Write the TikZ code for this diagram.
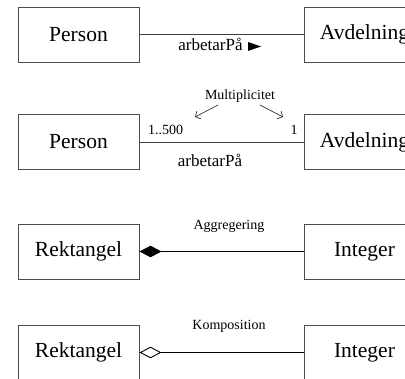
\documentclass[tikz,border=0pt]{standalone}
\usepackage{fontspec}
\setmainfont{Liberation Serif}
\usetikzlibrary{arrows.meta}
\begin{document}
\begin{tikzpicture}[x=1pt,y=-1pt,
  cls/.style={draw=black!70, line width=0.9pt, minimum width=121pt,
    minimum height=55pt, inner sep=0pt, font=\fontsize{21.5}{24}\selectfont},
  assoc/.style={draw=black!75, line width=0.9pt},
  lbl/.style={inner sep=0pt, font=\fontsize{17}{19}\selectfont},
  small/.style={inner sep=0pt, font=\fontsize{14}{16}\selectfont},
  pointer/.style={draw=black!80, line width=0.7pt,
    -{Straight Barb[length=4pt,width=9pt]}}]
\clip (0,0) rectangle (405,379);

% association with reading direction
\node[cls] (p1) at (78.5,34.5) {Person};
\node[cls] (a1) at (364.5,34.5) {Avdelning};
\draw[assoc] (p1.east) -- (a1.west);
\node[lbl] (l1) at (210.5,44.5) {arbetarPå};
\coordinate (t1) at (248,42);
\fill (t1) -- ++(13,4.5) -- ++(-13,4.5) -- cycle;

% association with multiplicities
\node[cls] (p2) at (78.5,142) {Person};
\node[cls] (a2) at (364.5,142) {Avdelning};
\draw[assoc] (p2.east) -- (a2.west);
\node[lbl] (l2) at (210,160) {arbetarPå};
\node[small] (m1) at (165.5,130) {1..500};
\node[small] (m2) at (294,130) {1};
\node[small] (mu) at (240,96) {Multiplicitet};
\coordinate (ms1) at (218,105);
\coordinate (me1) at (195,117);
\coordinate (ms2) at (260,105);
\coordinate (me2) at (283,117);
\draw[pointer] (ms1) -- (me1);
\draw[pointer] (ms2) -- (me2);

% aggregation
\node[cls] (r3) at (78.5,251.5) {Rektangel};
\node[cls] (i3) at (364.5,251.5) {Integer};
\draw[assoc, draw=black, {Diamond[length=22pt,width=11.5pt]}-] (r3.east) -- (i3.west);
\node[small] (ag) at (229,226.5) {Aggregering};

% composition
\node[cls] (r4) at (78.5,352.5) {Rektangel};
\node[cls] (i4) at (364.5,352.5) {Integer};
\draw[assoc, draw=black, {Diamond[open,length=22pt,width=11.5pt]}-] (r4.east) -- (i4.west);
\node[small] (ko) at (229,326.5) {Komposition};
\end{tikzpicture}
\end{document}
